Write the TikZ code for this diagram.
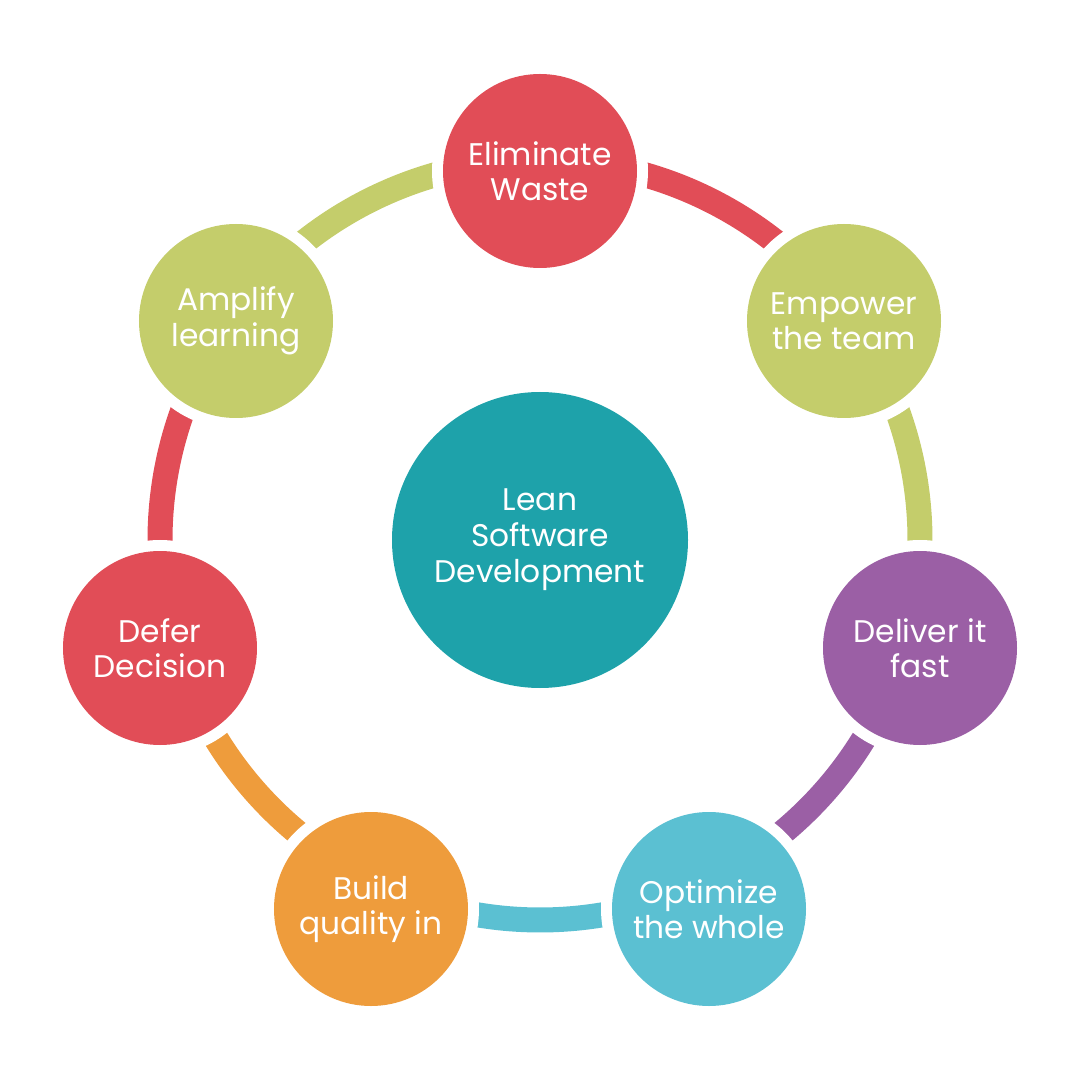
\documentclass[tikz,border=0pt]{standalone}
\usepackage{fontspec}
\setmainfont{Poppins}
\usetikzlibrary{calc,backgrounds}
\definecolor{leanred}{HTML}{E14D57}
\definecolor{leangreen}{HTML}{C4CD6B}
\definecolor{leanpurple}{HTML}{9B5FA5}
\definecolor{leanblue}{HTML}{5BC0D2}
\definecolor{leanorange}{HTML}{EE9C3C}
\definecolor{leanteal}{HTML}{1EA2AA}
\tikzset{
  item/.style={circle,fill=#1,minimum size=1.94cm,inner sep=0pt,text=white,align=center,
    font=\fontsize{8.9}{10.1}\selectfont,preaction={draw=white,line width=2.2mm}},
  hub/.style={circle,fill=leanteal,minimum size=2.96cm,inner sep=0pt,text=white,align=center,
    font=\fontsize{8.9}{10.2}\selectfont},
  ringlink/.style={draw=#1,line width=2.5mm},
  onring/.style={to path={
    let \p1=($(\tikztostart)-(lean)$), \p2=($(\tikztotarget)-(lean)$),
        \n1={atan2(\y1,\x1)}, \n2={atan2(\y2,\x2)} in
    ($(lean)!3.8cm!(\tikztostart)$) arc[start angle=\n1,delta angle={-mod(\n1-\n2+360,360)},radius=3.8cm]}}
}
\begin{document}
\begin{tikzpicture}

  \useasboundingbox (-5.40,-5.40) rectangle (5.36,5.40);

  \node[hub] (lean) at (0.00, 0.00) {Lean\\Software\\Development};

  \node[item=leanred]    (elim) at ( 0.00,  3.69) {Eliminate\\Waste};
  \node[item=leangreen]  (empw) at ( 3.04,  2.19) {Empower\\the team};
  \node[item=leanpurple] (dlvr) at ( 3.80, -1.08) {Deliver it\\fast};
  \node[item=leanblue]   (optm) at ( 1.69, -3.69) {Optimize\\the whole};
  \node[item=leanorange] (bldq) at (-1.69, -3.69) {Build\\quality in};
  \node[item=leanred]    (defr) at (-3.80, -1.08) {Defer\\Decision};
  \node[item=leangreen]  (ampl) at (-3.04,  2.19) {Amplify\\learning};

  \begin{scope}[on background layer]
    \draw[ringlink=leanred]    (elim) to[onring] (empw);
    \draw[ringlink=leangreen]  (empw) to[onring] (dlvr);
    \draw[ringlink=leanpurple] (dlvr) to[onring] (optm);
    \draw[ringlink=leanblue]   (optm) to[onring] (bldq);
    \draw[ringlink=leanorange] (bldq) to[onring] (defr);
    \draw[ringlink=leanred]    (defr) to[onring] (ampl);
    \draw[ringlink=leangreen]  (ampl) to[onring] (elim);
  \end{scope}

\end{tikzpicture}
\end{document}
